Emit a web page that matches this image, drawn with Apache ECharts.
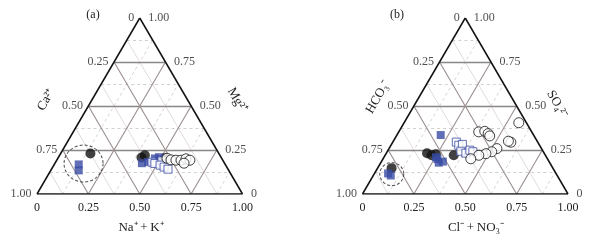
<!DOCTYPE html>
<html><head><meta charset="utf-8">
<script src="https://cdn.jsdelivr.net/npm/echarts@6/dist/echarts.min.js"></script>
<style>html,body{margin:0;padding:0;background:#fff}#c{width:593px;height:242px}</style>
</head><body><div id="c"></div>
<script>
// ---- tick values / labels ----
const TICKS = [0, 0.25, 0.5, 0.75, 1];
const TICK_LABELS = ['0', '0.25', '0.50', '0.75', '1.00'];
const MAJOR = [0.25, 0.5, 0.75];
const MINOR = [0.125, 0.375, 0.625, 0.875];

// ---- panel (a): [Na+ + K+, Mg2+] (Ca2+ = 1 - both) ----
const aBlackCircles = [[0.145,0.23],[0.415,0.22],[0.405,0.207],[0.52,0.203]];
const aBlueSquares  = [[0.119,0.168],[0.136,0.134],[0.423,0.175],[0.449,0.182],[0.473,0.202],[0.489,0.209]];
const aOpenSquares  = [[0.469,0.181],[0.487,0.173],[0.514,0.188],[0.517,0.164],[0.542,0.153],[0.567,0.141]];
const aOpenCircles  = [[0.531,0.203],[0.555,0.194],[0.58,0.192],[0.605,0.192],[0.625,0.2],[0.648,0.192],[0.628,0.175]];
const aRing = [[0.14,0.173]];

// ---- panel (b): [Cl- + NO3-, SO4 2-] (HCO3- = 1 - both) ----
const bBlackCircles = [[0.068,0.147],[0.198,0.232],[0.226,0.22],[0.244,0.226],[0.334,0.22]];
const bBlueSquares  = [[0.066,0.117],[0.085,0.105],[0.213,0.335],[0.253,0.209],[0.266,0.198],[0.282,0.178],[0.299,0.184]];
const bOpenSquares  = [[0.309,0.295],[0.33,0.277],[0.345,0.282],[0.357,0.243],[0.387,0.232],[0.398,0.249],[0.417,0.24]];
const bOpenCircles  = [[0.389,0.353],[0.417,0.356],[0.44,0.343],[0.454,0.33],[0.558,0.405],[0.575,0.294],[0.56,0.3],[0.525,0.258],[0.509,0.24],[0.486,0.229],[0.456,0.22],[0.427,0.2]];
const bRing = [[0.086,0.113]];

const S = Math.sqrt(3) / 2;
const P = (b, r) => [b + r / 2, r * S];
const FONT = 'Liberation Serif';
const BLUE = '#3a4ca4';

function seg(list, fn) { return list.map(v => ({ coords: fn(v) })); }
function linesSeries(i, data, color, width, type, z) {
  return { type: 'lines', coordinateSystem: 'cartesian2d', xAxisIndex: i, yAxisIndex: i, polyline: false,
    silent: true, z: z, data: data, lineStyle: { color: color, width: width, type: type, opacity: 1 } };
}
function panelSeries(i, pts) {
  const s = [];
  // minor lines
  s.push(linesSeries(i, seg(MINOR, v => [P(0, v), P(1 - v, v)]), '#c4c4c4', 0.8, [3, 3], 1));
  s.push(linesSeries(i, seg(MINOR, v => [P(v, 0), P(v, 1 - v)]), '#c8c8c8', 0.8, [3, 3], 1));
  s.push(linesSeries(i, seg(MINOR, v => [P(1 - v, 0), P(0, 1 - v)]), '#d9d0d0', 0.8, 'solid', 1));
  // major lines
  s.push(linesSeries(i, seg(MAJOR, v => [P(0, v), P(1 - v, v)]), '#8a8686', 1.3, 'solid', 2));
  s.push(linesSeries(i, seg(MAJOR, v => [P(v, 0), P(v, 1 - v)]), '#9a8e8e', 1.1, 'solid', 2));
  s.push(linesSeries(i, seg(MAJOR, v => [P(1 - v, 0), P(0, 1 - v)]), '#9a8e8e', 1.1, 'solid', 2));
  // border
  s.push(linesSeries(i, [{coords:[P(0,0),P(1,0)]},{coords:[P(1,0),P(0,1)]},{coords:[P(0,1),P(0,0)]}], '#111', 1.5, 'solid', 3));
  // ring annotation
  s.push({ type: 'scatter', xAxisIndex: i, yAxisIndex: i, silent: true, z: 4,
    data: pts.ring.map(p => P(p[0], p[1])), symbol: 'circle', symbolSize: pts.ringSize,
    itemStyle: { color: 'rgba(0,0,0,0)', borderColor: '#222', borderWidth: 1, borderType: [3, 2] } });
  // data marks
  s.push({ type: 'scatter', xAxisIndex: i, yAxisIndex: i, z: 5, symbol: 'circle', symbolSize: 10,
    data: pts.black.map(p => P(p[0], p[1])), itemStyle: { color: '#111' } });
  s.push({ type: 'scatter', xAxisIndex: i, yAxisIndex: i, z: 5, symbol: 'rect', symbolSize: 8,
    data: pts.blue.map(p => P(p[0], p[1])), itemStyle: { color: BLUE } });
  s.push({ type: 'scatter', xAxisIndex: i, yAxisIndex: i, z: 5, symbol: 'rect', symbolSize: 8,
    data: pts.openSq.map(p => P(p[0], p[1])), itemStyle: { color: '#fff', borderColor: BLUE, borderWidth: 1 } });
  s.push({ type: 'scatter', xAxisIndex: i, yAxisIndex: i, z: 5, symbol: 'circle', symbolSize: 10,
    data: pts.openCi.map(p => P(p[0], p[1])), itemStyle: { color: '#fff', borderColor: '#111', borderWidth: 1 } });
  // side tick labels (left side: third component, right side: second component)
  const lab = { show: true, fontFamily: FONT, fontSize: 12, color: '#222' };
  s.push({ type: 'scatter', xAxisIndex: i, yAxisIndex: i, silent: true, z: 6, symbolSize: 1,
    itemStyle: { color: 'rgba(0,0,0,0)' },
    data: TICKS.map((v, k) => ({ value: P(0, 1 - v),
      label: Object.assign({}, lab, { position: 'left', distance: 5, formatter: TICK_LABELS[k] }) })) });
  s.push({ type: 'scatter', xAxisIndex: i, yAxisIndex: i, silent: true, z: 6, symbolSize: 1,
    itemStyle: { color: 'rgba(0,0,0,0)' },
    data: TICKS.map((v, k) => ({ value: P(1 - v, v),
      label: Object.assign({}, lab, { position: 'right', distance: 8, formatter: TICK_LABELS[k] }) })) });
  return s;
}

function xAx(i) {
  return { gridIndex: i, type: 'value', min: 0, max: 1, interval: 0.25,
    axisLine: { show: false }, axisTick: { show: false }, splitLine: { show: false },
    axisLabel: { margin: 8, fontFamily: FONT, fontSize: 12, color: '#222',
      formatter: v => TICK_LABELS[TICKS.indexOf(v)] } };
}
function yAx(i) {
  return { gridIndex: i, type: 'value', min: 0, max: S, show: false };
}

const chart = echarts.init(document.getElementById('c'), null, { renderer: 'canvas' });
chart.setOption({
  animation: false,
  backgroundColor: '#fff',
  grid: [
    { left: 37, top: 18, width: 205.5, height: 176 },
    { left: 362.5, top: 18, width: 205.5, height: 176 }
  ],
  xAxis: [xAx(0), xAx(1)],
  yAxis: [yAx(0), yAx(1)],
  series: [].concat(
    panelSeries(0, { black: aBlackCircles, blue: aBlueSquares, openSq: aOpenSquares, openCi: aOpenCircles, ring: aRing, ringSize: [39, 37] }),
    panelSeries(1, { black: bBlackCircles, blue: bBlueSquares, openSq: bOpenSquares, openCi: bOpenCircles, ring: bRing, ringSize: [24, 23] })
  ),
  graphic: [
    { type: 'text', x: 93, y: 15, style: { text: '(a)', font: '12px "Liberation Serif"', fill: '#222', align: 'center', verticalAlign: 'middle' } },
    { type: 'text', x: 397, y: 15, style: { text: '(b)', font: '12px "Liberation Serif"', fill: '#222', align: 'center', verticalAlign: 'middle' } },
    { type: 'text', x: 141, y: 228, style: { text: 'Na\u207A\u2009+\u2009K\u207A', font: '13px "Liberation Serif"', fill: '#222', align: 'center', verticalAlign: 'middle' } },
    { type: 'text', x: 476, y: 228, style: { text: 'Cl\u207B\u2009+\u2009NO\u2083\u207B', font: '13px "Liberation Serif"', fill: '#222', align: 'center', verticalAlign: 'middle' } },
    { type: 'text', x: 46, y: 100, rotation: Math.PI / 3, style: { text: 'Ca\u00B2\u207A', font: '13px "Liberation Serif"', fill: '#222', align: 'center', verticalAlign: 'middle' } },
    { type: 'text', x: 237, y: 100, rotation: -Math.PI / 3, style: { text: 'Mg\u00B2\u207A', font: '13px "Liberation Serif"', fill: '#222', align: 'center', verticalAlign: 'middle' } },
    { type: 'text', x: 378, y: 97, rotation: Math.PI / 3, style: { text: 'HCO\u2083\u207B', font: '13px "Liberation Serif"', fill: '#222', align: 'center', verticalAlign: 'middle' } },
    { type: 'text', x: 557, y: 104, rotation: -Math.PI / 3, style: { text: 'SO\u2084\u00B2\u207B', font: '13px "Liberation Serif"', fill: '#222', align: 'center', verticalAlign: 'middle' } }
  ]
});
</script>
</body></html>
